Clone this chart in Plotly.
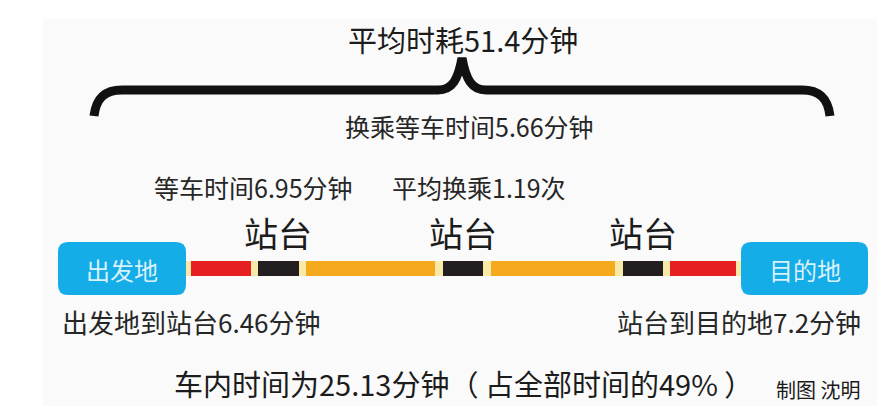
import plotly.graph_objects as go

# ---------------- data ----------------
total_minutes = 51.4          # 平均时耗
transfer_wait_minutes = 5.66  # 换乘等车时间
first_wait_minutes = 6.95     # 等车时间
avg_transfers = 1.19          # 平均换乘次数
access_minutes = 6.46         # 出发地到站台
egress_minutes = 7.2          # 站台到目的地
in_vehicle_minutes = 25.13    # 车内时间
in_vehicle_share = 49         # 占全部时间 %
segment_kinds = ["步行", "等车", "乘车", "换乘", "乘车", "换乘", "步行"]
station_labels = ["站台", "站台", "站台"]
end_labels = ["出发地", "目的地"]
credit = "制图 沈明"

# ---------------- layout / style ----------------
W, H = 877, 406
FONT = "Noto Sans CJK SC"
TXT = "#262626"
kind_color = {"步行": "#e61f22", "等车": "#231f20", "换乘": "#231f20", "乘车": "#f5a91d"}
seg_px = [(191, 251), (258, 299), (306, 435), (443, 483), (491, 615), (623, 663), (670, 736)]
bar_y0, bar_y1 = 261, 276
box_px = [(58, 186), (741, 868)]
box_y0, box_y1 = 242, 295

fig = go.Figure()

shapes = []
# panel background
shapes.append(dict(type="rect", x0=43, x1=W, y0=19, y1=H, fillcolor="#fafafa",
                   line=dict(width=0), layer="below"))

def rrect(x0, x1, y0, y1, r):
    return (f"M {x0+r},{y0} L {x1-r},{y0} Q {x1},{y0} {x1},{y0+r} "
            f"L {x1},{y1-r} Q {x1},{y1} {x1-r},{y1} L {x0+r},{y1} "
            f"Q {x0},{y1} {x0},{y1-r} L {x0},{y0+r} Q {x0},{y0} {x0+r},{y0} Z")

# pale underlay of the route bar
shapes.append(dict(type="rect", x0=184, x1=743, y0=bar_y0, y1=bar_y1,
                   fillcolor="#f8e9a6", line=dict(width=0), layer="below"))

# route segments as horizontal bars
fig.add_trace(go.Bar(
    orientation="h",
    base=[s[0] for s in seg_px],
    x=[s[1] - s[0] for s in seg_px],
    y=[(bar_y0 + bar_y1) / 2] * len(seg_px),
    width=bar_y1 - bar_y0,
    marker=dict(color=[kind_color[k] for k in segment_kinds], line=dict(width=0)),
    hovertext=segment_kinds, hoverinfo="text", showlegend=False,
))

# end boxes
for (x0, x1) in box_px:
    shapes.append(dict(type="path", path=rrect(x0, x1, box_y0, box_y1, 10),
                       fillcolor="#15ade7", line=dict(width=0)))

# brace
brace = ("M 94,116 C 96,99 104,90 122,90 L 438,90 C 452,90 458,80 462,58 "
         "C 466,80 472,90 486,90 L 802,90 C 820,90 828,99 830,116")
shapes.append(dict(type="path", path=brace, line=dict(color="#111111", width=9)))

annotations = []
def txt(s, x, y, size, color=TXT, xanchor="center"):
    annotations.append(dict(text=s, x=x, y=y, xref="x", yref="y", showarrow=False,
                            xanchor=xanchor, yanchor="middle",
                            font=dict(family=FONT, size=size, color=color)))

txt(f"平均时耗{total_minutes}分钟", 463, 39, 29, "#1c1c1c")
txt(f"换乘等车时间{transfer_wait_minutes}分钟", 469, 126, 25)
txt(f"等车时间{first_wait_minutes}分钟", 253, 187, 25)
txt(f"平均换乘{avg_transfers}次", 479, 187, 25)
for lab, cx in zip(station_labels, [278, 463, 643]):
    txt(lab, cx, 232, 34, "#1c1c1c")
for lab, (x0, x1) in zip(end_labels, box_px):
    txt(lab, (x0 + x1) / 2, 269, 24, "rgba(255,255,255,0.85)")
txt(f"出发地到站台{access_minutes}分钟", 60, 321, 26, xanchor="left")
txt(f"站台到目的地{egress_minutes}分钟", 863, 321, 26, xanchor="right")
txt(f"车内时间为{in_vehicle_minutes}分钟（ 占全部时间的{in_vehicle_share}% ）", 463, 383, 29, "#1c1c1c")
txt(credit, 818, 389, 20, "#1a1a1a")

fig.update_layout(
    width=W, height=H, margin=dict(l=0, r=0, t=0, b=0),
    paper_bgcolor="white", plot_bgcolor="white",
    xaxis=dict(range=[0, W], visible=False, fixedrange=True),
    yaxis=dict(range=[H, 0], visible=False, fixedrange=True),
    shapes=shapes, annotations=annotations, bargap=0,
)
fig.write_html("out.html")
